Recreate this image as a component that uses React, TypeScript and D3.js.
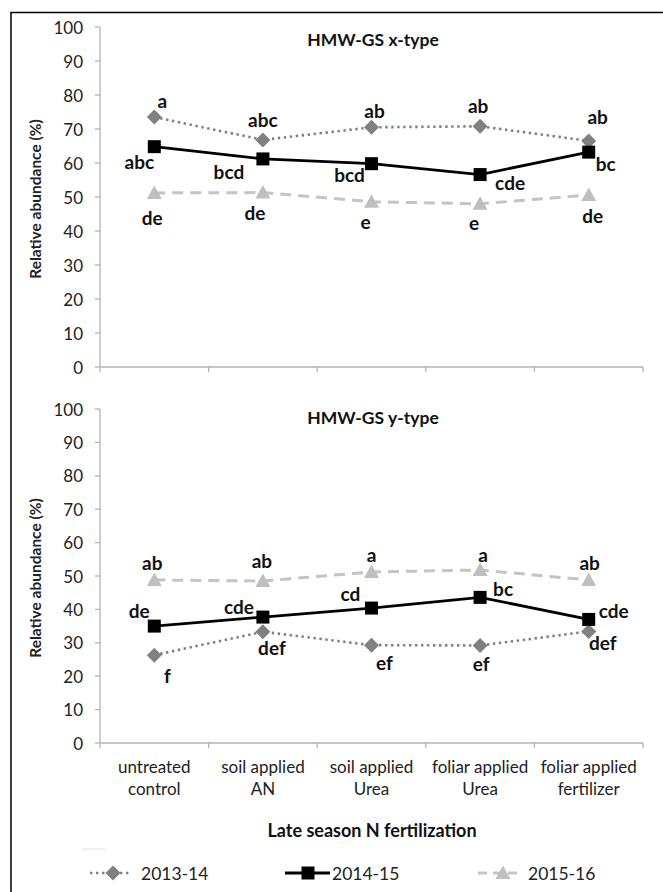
import React from "react";
import * as d3 from "d3";

const categories = [
  ["untreated", "control"],
  ["soil applied", "AN"],
  ["soil applied", "Urea"],
  ["foliar applied", "Urea"],
  ["foliar applied", "fertilizer"],
];
const seriesNames = ["2013-14", "2014-15", "2015-16"];

// x-type panel
const xType2013 = [73.5, 66.8, 70.5, 70.8, 66.5];
const xType2014 = [64.8, 61.2, 59.8, 56.6, 63.2];
const xType2015 = [51.2, 51.3, 48.6, 48.0, 50.6];
const xTypeLabels2013 = ["a", "abc", "ab", "ab", "ab"];
const xTypeLabels2014 = ["abc", "bcd", "bcd", "cde", "bc"];
const xTypeLabels2015 = ["de", "de", "e", "e", "de"];

// y-type panel
const yType2013 = [26.3, 33.3, 29.3, 29.2, 33.4];
const yType2014 = [35.0, 37.7, 40.4, 43.6, 37.0];
const yType2015 = [48.8, 48.5, 51.2, 51.8, 48.8];
const yTypeLabels2013 = ["f", "def", "ef", "ef", "def"];
const yTypeLabels2014 = ["de", "cde", "cd", "bc", "cde"];
const yTypeLabels2015 = ["ab", "ab", "a", "a", "ab"];

const yTicks = [0, 10, 20, 30, 40, 50, 60, 70, 80, 90, 100];

// label offsets (style only)
const offX = {
  s13: [[8, -17], [0, -20], [3, -17], [-2, -21], [9, -24]],
  s14: [[-15, 15], [-34, 13], [-22, 11], [30, 8], [17, 11]],
  s15: [[-2, 25], [-8, 20], [-6, 20], [-6, 19], [4, 21]],
};
const offY = {
  s13: [[13, 20], [9, 16], [13, 17], [1, 18], [14, 11]],
  s14: [[-15, -16], [-24, -11], [-21, -15], [23, -9], [25, -9]],
  s15: [[-2, -18], [-1, -21], [0, -17], [3, -15], [1, -18]],
};

const FONT = "Lato, 'Open Sans', 'DejaVu Sans', sans-serif";
const AXIS = "#b3b3b3";

const styles = [
  { color: "#808080", lineColor: "#808080", width: 2.6, dash: "2.4,3.6", marker: "diamond" },
  { color: "#000000", lineColor: "#000000", width: 2.8, dash: null, marker: "square" },
  { color: "#bfbfbf", lineColor: "#c4c4c4", width: 3, dash: "11,7", marker: "triangle" },
];

function markerPath(kind: string, x: number, y: number) {
  if (kind === "diamond") {
    const r = 7.5;
    return `M${x},${y - r}L${x + r},${y}L${x},${y + r}L${x - r},${y}Z`;
  }
  if (kind === "square") {
    const r = 6.5;
    return `M${x - r},${y - r}H${x + r}V${y + r}H${x - r}Z`;
  }
  const w = 7.5;
  return `M${x},${y - 7.5}L${x + w},${y + 6}L${x - w},${y + 6}Z`;
}

const xScale = d3
  .scaleBand<number>()
  .domain(d3.range(categories.length))
  .range([100, 643]);
const cx = (i: number) => (xScale(i) as number) + xScale.bandwidth() / 2;

function Panel({
  y0,
  y100,
  title,
  titleY,
  data,
  labels,
  offsets,
}: {
  y0: number;
  y100: number;
  title: string;
  titleY: number;
  data: number[][];
  labels: string[][];
  offsets: number[][][];
}) {
  const y = d3.scaleLinear().domain([0, 100]).range([y0, y100]);
  const line = d3
    .line<number>()
    .x((_, i) => cx(i))
    .y((d) => y(d));
  const boundaries = d3.range(categories.length + 1).map((i) =>
    i < categories.length ? (xScale(i) as number) : 643
  );
  return (
    <g>
      <line x1={100} x2={100} y1={y(100)} y2={y(0)} stroke={AXIS} strokeWidth={1.3} />
      <line x1={100} x2={643} y1={y(0)} y2={y(0)} stroke={AXIS} strokeWidth={1.3} />
      {yTicks.map((t) => (
        <g key={t}>
          <line x1={95} x2={100} y1={y(t)} y2={y(t)} stroke={AXIS} strokeWidth={1.3} />
          <text
            x={83}
            y={y(t)}
            textAnchor="end"
            dominantBaseline="central"
            fontFamily={FONT}
            fontSize={17}
            fill="#222"
          >
            {t}
          </text>
        </g>
      ))}
      {boundaries.map((bx, i) => (
        <line key={i} x1={bx} x2={bx} y1={y(0)} y2={y(0) + 5} stroke={AXIS} strokeWidth={1.3} />
      ))}
      <text
        transform={`translate(35,${(y(0) + y(100)) / 2 + 2}) rotate(-90)`}
        textAnchor="middle"
        dominantBaseline="central"
        fontFamily={FONT}
        fontWeight="bold"
        fontSize={15.5}
        fill="#222"
      >
        Relative abundance (%)
      </text>
      <text
        x={373}
        y={titleY}
        textAnchor="middle"
        dominantBaseline="central"
        fontFamily={FONT}
        fontWeight="bold"
        fontSize={17.5}
        fill="#111"
      >
        {title}
      </text>
      {data.map((vals, s) => {
        const st = styles[s];
        return (
          <g key={s}>
            <path
              d={line(vals) as string}
              fill="none"
              stroke={st.lineColor}
              strokeWidth={st.width}
              strokeDasharray={st.dash ?? undefined}
            />
          </g>
        );
      })}
      {[2, 0, 1].map((s) => {
        const st = styles[s];
        return (
          <g key={"m" + s}>
            {data[s].map((v, i) => (
              <path key={i} d={markerPath(st.marker, cx(i), y(v))} fill={st.color} />
            ))}
          </g>
        );
      })}
      {labels.map((labs, s) =>
        labs.map((lab, i) => (
          <text
            key={s + "-" + i}
            x={cx(i) + offsets[s][i][0]}
            y={y(data[s][i]) + offsets[s][i][1]}
            textAnchor="middle"
            dominantBaseline="central"
            fontFamily={FONT}
            fontWeight="bold"
            fontSize={19}
            fill="#111"
          >
            {lab}
          </text>
        ))
      )}
    </g>
  );
}

export default function App() {
  return (
    <svg
      width={663}
      height={892}
      style={{ position: "absolute", left: 0, top: 0, background: "#fff" }}
    >
      <rect x={0} y={0} width={663} height={892} fill="#fff" />
      <rect x={11} y={12.5} width={700} height={900} fill="none" stroke="#000" strokeWidth={1.5} />
      <Panel
        y0={367}
        y100={27}
        title="HMW-GS x-type"
        titleY={39}
        data={[xType2013, xType2014, xType2015]}
        labels={[xTypeLabels2013, xTypeLabels2014, xTypeLabels2015]}
        offsets={[offX.s13, offX.s14, offX.s15]}
      />
      <Panel
        y0={743}
        y100={409}
        title="HMW-GS y-type"
        titleY={417}
        data={[yType2013, yType2014, yType2015]}
        labels={[yTypeLabels2013, yTypeLabels2014, yTypeLabels2015]}
        offsets={[offY.s13, offY.s14, offY.s15]}
      />
      {categories.map((c, i) => (
        <text
          key={i}
          x={cx(i)}
          y={767}
          textAnchor="middle"
          fontFamily={FONT}
          fontSize={17}
          fill="#222"
        >
          <tspan x={cx(i)} dy="0.35em">{c[0]}</tspan>
          <tspan x={cx(i)} dy="1.3em">{c[1]}</tspan>
        </text>
      ))}
      <text
        x={372}
        y={830}
        textAnchor="middle"
        dominantBaseline="central"
        fontFamily={FONT}
        fontWeight="bold"
        fontSize={18}
        fill="#111"
      >
        Late season N fertilization
      </text>
      <line x1={82} x2={105} y1={849} y2={849} stroke="#e6e6e6" strokeWidth={1.2} />
      {[
        { x1: 90, x2: 130, mx: 113, tx: 141 },
        { x1: 285, x2: 330, mx: 308, tx: 332 },
        { x1: 478, x2: 518, mx: 503, tx: 528 },
      ].map((l, s) => {
        const st = styles[s];
        return (
          <g key={s}>
            <line
              x1={l.x1}
              x2={l.x2}
              y1={873}
              y2={873}
              stroke={st.lineColor}
              strokeWidth={st.width}
              strokeDasharray={s === 2 ? "9,6" : st.dash ?? undefined}
            />
            <path d={markerPath(st.marker, l.mx, 873)} fill={st.color} />
            <text
              x={l.tx}
              y={873}
              dominantBaseline="central"
              fontFamily={FONT}
              fontSize={17.5}
              fill="#222"
            >
              {seriesNames[s]}
            </text>
          </g>
        );
      })}
    </svg>
  );
}
